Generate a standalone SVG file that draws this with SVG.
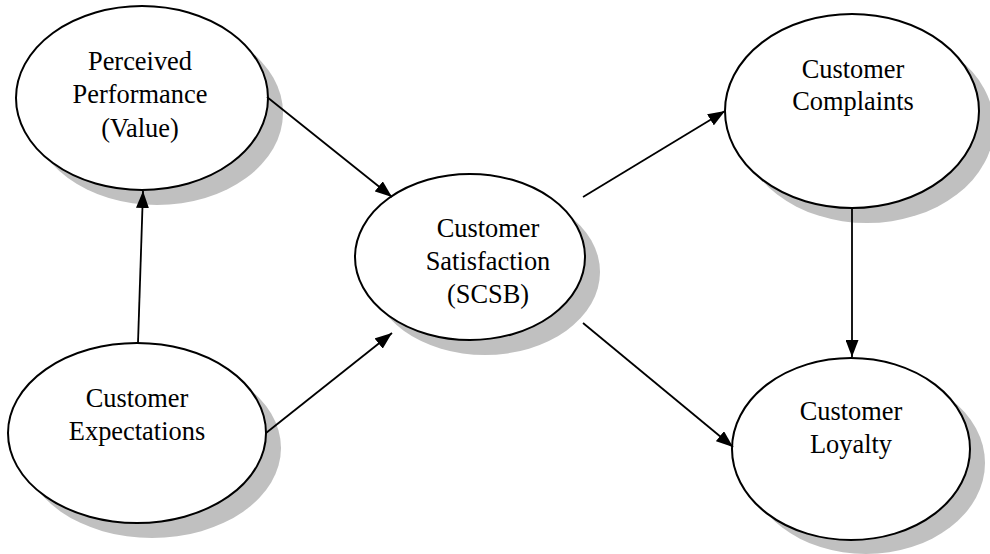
<svg xmlns="http://www.w3.org/2000/svg" width="990" height="554" viewBox="0 0 990 554">
  <style>
    .shadow { fill: #c0c0c0; stroke: none; }
    .node { fill: #ffffff; stroke: #000000; stroke-width: 2; }
    .label { font-family: 'Liberation Serif', 'Times New Roman', serif; font-size: 26.4px; fill: #000000; text-anchor: middle; }
    .edge { stroke: #000000; stroke-width: 1.8; fill: none; marker-end: url(#arrowhead); }
  </style>
  <defs>
    <marker id="arrowhead" viewBox="0 0 17 13" refX="17" refY="6.5" markerWidth="17" markerHeight="13" markerUnits="userSpaceOnUse" orient="auto">
      <path d="M0,0 L17,6.5 L0,13 Z" fill="#000000"/>
    </marker>
  </defs>
  <rect width="990" height="554" fill="#ffffff"/>

  <g id="perceived-performance">
    <ellipse class="shadow" cx="157" cy="113" rx="126" ry="92"/>
    <ellipse class="node" cx="142" cy="98" rx="126" ry="92"/>
    <text class="label" x="140" y="70">Perceived</text>
    <text class="label" x="140" y="103">Performance</text>
    <text class="label" x="140" y="137">(Value)</text>
  </g>

  <g id="customer-expectations">
    <ellipse class="shadow" cx="152" cy="448" rx="129" ry="90"/>
    <ellipse class="node" cx="137" cy="433" rx="129" ry="90"/>
    <text class="label" x="137" y="407">Customer</text>
    <text class="label" x="137" y="440">Expectations</text>
  </g>

  <g id="customer-satisfaction">
    <ellipse class="shadow" cx="485" cy="272" rx="115" ry="83"/>
    <ellipse class="node" cx="470" cy="257" rx="115" ry="83"/>
    <text class="label" x="488" y="237">Customer</text>
    <text class="label" x="488" y="270">Satisfaction</text>
    <text class="label" x="488" y="303">(SCSB)</text>
  </g>

  <g id="customer-complaints">
    <ellipse class="shadow" cx="867" cy="126" rx="127" ry="97"/>
    <ellipse class="node" cx="852" cy="111" rx="127" ry="97"/>
    <text class="label" x="853" y="78">Customer</text>
    <text class="label" x="853" y="110">Complaints</text>
  </g>

  <g id="customer-loyalty">
    <ellipse class="shadow" cx="866" cy="463" rx="119" ry="91"/>
    <ellipse class="node" cx="851" cy="449" rx="119" ry="91"/>
    <text class="label" x="851" y="420">Customer</text>
    <text class="label" x="851" y="453">Loyalty</text>
  </g>

  <g id="connectors">
    <line class="edge" x1="138" y1="343" x2="143" y2="191"/>
    <line class="edge" x1="267" y1="97" x2="392" y2="197"/>
    <line class="edge" x1="266" y1="433" x2="392" y2="333"/>
    <line class="edge" x1="583" y1="197" x2="725" y2="111"/>
    <line class="edge" x1="583" y1="323" x2="733" y2="447"/>
    <line class="edge" x1="852" y1="208" x2="852" y2="357"/>
  </g>
</svg>
